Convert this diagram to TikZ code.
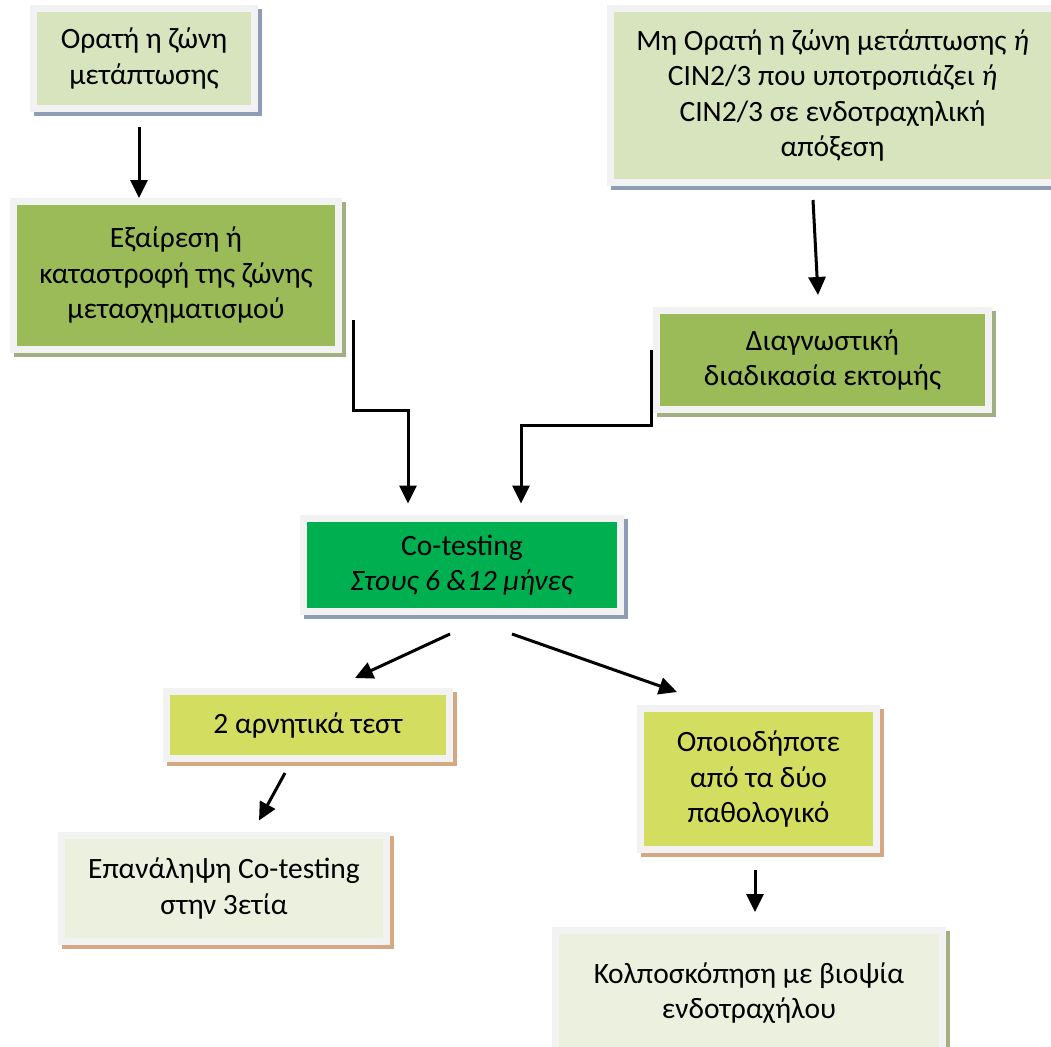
\documentclass[tikz,border=0pt]{standalone}
\usepackage{fontspec}
\setmainfont{Carlito}
\usepackage{xcolor}
\usetikzlibrary{positioning, arrows.meta, shadows}

\definecolor{rimgray}{RGB}{242,242,242}
\definecolor{paleolive}{RGB}{215,228,189}
\definecolor{midolive}{RGB}{155,187,89}
\definecolor{brightgreen}{RGB}{0,176,80}
\definecolor{limegreen}{RGB}{211,222,96}
\definecolor{mistgreen}{RGB}{235,241,222}
\definecolor{shblue}{RGB}{141,157,180}
\definecolor{sholive}{RGB}{160,176,130}
\definecolor{shtan}{RGB}{212,168,130}

\begin{document}
\begin{tikzpicture}[
    x=1pt, y=-1pt,
    box/.style={rectangle, draw=rimgray, line width=7pt, outer sep=0pt, align=center,
                font=\fontsize{29.5}{35.5}\selectfont},
    blueshadow/.style={general shadow={fill=shblue, draw=shblue, line width=7pt, shadow xshift=4pt, shadow yshift=-4pt}},
    oliveshadow/.style={general shadow={fill=sholive, draw=sholive, line width=7pt, shadow xshift=4pt, shadow yshift=-4pt}},
    tanshadow/.style={general shadow={fill=shtan, draw=shtan, line width=7pt, shadow xshift=4pt, shadow yshift=-4pt}},
    arrow/.style={-{Triangle[length=18pt, width=17pt]}, line width=3pt, black}
]
    \useasboundingbox (0,0) rectangle (1051,1046);

    % Boxes
    \node[box, blueshadow, fill=paleolive, minimum width=221pt, minimum height=100pt] (visible) at (144,58.5)
        {Ορατή η ζώνη\\μετάπτωσης};
    \node[box, blueshadow, fill=paleolive, minimum width=444pt, minimum height=174pt] (hidden) at (832.5,95.5)
        {Μη Ορατή η ζώνη μετάπτωσης \textit{ή}\\CIN2/3 που υποτροπιάζει \textit{ή}\\CIN2/3 σε ενδοτραχηλική\\απόξεση};
    \node[box, oliveshadow, fill=midolive, minimum width=325pt, minimum height=148pt] (excision) at (176,275.5)
        {Εξαίρεση ή\\καταστροφή της ζώνης\\μετασχηματισμού};
    \node[box, oliveshadow, fill=midolive, minimum width=332pt, minimum height=99pt] (diagnostic) at (822.5,360)
        {Διαγνωστική\\διαδικασία εκτομής};
    \node[box, blueshadow, fill=brightgreen, minimum width=317pt, minimum height=93pt] (cotest) at (462,565)
        {Co-testing\\\textit{Στους 6 \&12 μήνες}};
    \node[box, tanshadow, fill=limegreen, minimum width=283pt, minimum height=67pt] (negative) at (308,725)
        {2 αρνητικά τεστ};
    \node[box, tanshadow, fill=limegreen, minimum width=236pt, minimum height=141pt] (abnormal) at (758.5,779)
        {Οποιοδήποτε\\από τα δύο\\παθολογικό};
    \node[box, tanshadow, fill=mistgreen, minimum width=325pt, minimum height=106pt] (repeat) at (224,888.5)
        {Επανάληψη Co-testing\\στην 3ετία};
    \node[box, oliveshadow, fill=mistgreen, minimum width=387pt, minimum height=126pt] (colpo) at (749,993)
        {Κολποσκόπηση με βιοψία\\ενδοτραχήλου};

    % Connectors
    \draw[arrow] ([xshift=-5pt, yshift=-18.5pt]visible.south) -- ([xshift=-37pt, yshift=3.5pt]excision.north);
    \draw[arrow] ([xshift=-19.5pt, yshift=-17.5pt]hidden.south) -- ([xshift=-4.5pt, yshift=15.5pt]diagnostic.north);
    \draw[arrow] ([xshift=14.5pt, yshift=-44.5pt]excision.east) -- ++(0,90) -| ([xshift=-54pt, yshift=15pt]cotest.north);
    \draw[arrow] ([xshift=-5.5pt, yshift=10pt]diagnostic.west) -- ++(0,75) -| ([xshift=59pt, yshift=15pt]cotest.north);
    \draw[arrow] ([xshift=-12pt, yshift=-22.5pt]cotest.south) -- ([xshift=47pt, yshift=13.5pt]negative.north);
    \draw[arrow] ([xshift=50pt, yshift=-22.5pt]cotest.south) -- ([xshift=-81.5pt, yshift=16.5pt]abnormal.north);
    \draw[arrow] ([xshift=-23pt, yshift=-14.5pt]negative.south) -- ([xshift=35pt, yshift=15pt]repeat.north);
    \draw[arrow] ([xshift=-3.5pt, yshift=-20pt]abnormal.south) -- ([xshift=6pt, yshift=18pt]colpo.north);

\end{tikzpicture}
\end{document}
